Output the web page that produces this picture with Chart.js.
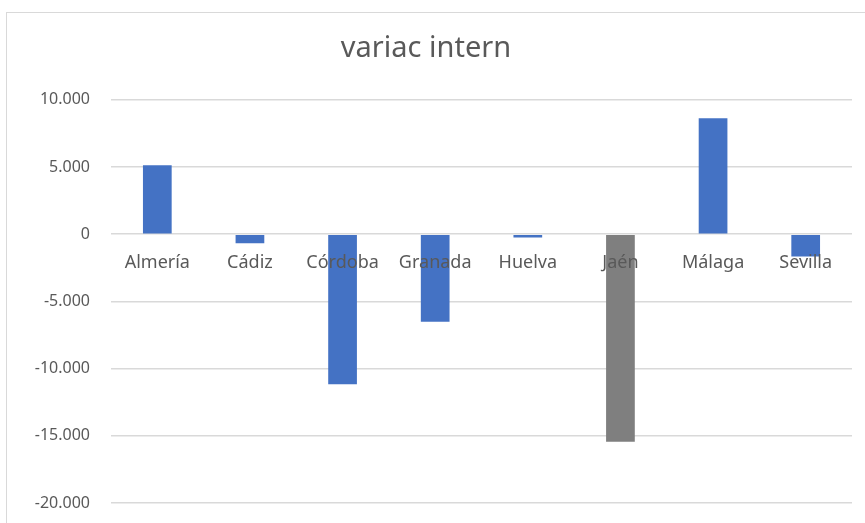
<!DOCTYPE html>
<html>
<head>
<meta charset="utf-8">
<script src="https://cdn.jsdelivr.net/npm/chart.js@4/dist/chart.umd.min.js"></script>
<style>
  html, body { margin: 0; padding: 0; background: #fff; overflow: hidden; }
  #marco { position: absolute; left: 6px; top: 12px; width: 900px; height: 600px; border: 1px solid #d9d9d9; }
  #grafico { position: absolute; left: 0; top: 0; }
</style>
</head>
<body>
<div id="marco"></div>
<canvas id="grafico" width="865" height="523"></canvas>
<script>
// Datos del gráfico
const provincias = ['Almería', 'Cádiz', 'Córdoba', 'Granada', 'Huelva', 'Jaén', 'Málaga', 'Sevilla'];
const variacion = [5130, -670, -11160, -6520, -250, -15450, 8630, -1660];
const colores = ['#4472C4', '#4472C4', '#4472C4', '#4472C4', '#4472C4', '#7F7F7F', '#4472C4', '#4472C4'];
const yMin = -20000;
const yMax = 10000;
const yPaso = 5000;

const fuente = '"Noto Sans", "Open Sans", sans-serif';
const gris = '#595959';

// Formato con punto de miles (10.000)
function formatoMiles(v) {
    const s = Math.abs(v).toString().replace(/\B(?=(\d{3})+(?!\d))/g, '.');
    return (v < 0 ? '-' : '') + s;
}

// Etiquetas de categoría sobre la línea del cero, como en Excel
const etiquetasEnCero = {
    id: 'etiquetasEnCero',
    afterDatasetsDraw(chart) {
        const ctx = chart.ctx;
        const x = chart.scales.x;
        const y0 = chart.scales.y.getPixelForValue(0);
        ctx.save();
        ctx.font = '18px ' + fuente;
        ctx.fillStyle = gris;
        ctx.textAlign = 'center';
        ctx.textBaseline = 'middle';
        provincias.forEach((p, i) => {
            ctx.fillText(p, x.getPixelForValue(i), y0 + 29);
        });
        ctx.restore();
    }
};

new Chart(document.getElementById('grafico'), {
    type: 'bar',
    data: {
        labels: provincias,
        datasets: [{
            label: 'variac intern',
            data: variacion,
            backgroundColor: colores,
            barPercentage: 0.31,
            categoryPercentage: 1
        }]
    },
    options: {
        responsive: false,
        devicePixelRatio: 1,
        animation: false,
        layout: { padding: { left: 0, right: 13, top: 0, bottom: 20 } },
        plugins: {
            legend: { display: false },
            tooltip: { enabled: false },
            title: {
                display: true,
                text: 'variac intern',
                color: gris,
                font: { family: fuente, size: 29, weight: 'normal' },
                padding: { top: 31, bottom: 34 }
            }
        },
        scales: {
            x: { display: false },
            y: {
                min: yMin,
                max: yMax,
                afterFit(scale) {
                    scale.width = 111;
                    scale.paddingTop = 0;
                    scale.paddingBottom = 0;
                },
                border: { display: false },
                grid: { color: '#d9d9d9', lineWidth: 1.5, drawTicks: false },
                ticks: {
                    stepSize: yPaso,
                    padding: 21,
                    color: gris,
                    font: { family: fuente, size: 16 },
                    callback: v => formatoMiles(v)
                }
            }
        }
    },
    plugins: [etiquetasEnCero]
});
</script>
</body>
</html>
